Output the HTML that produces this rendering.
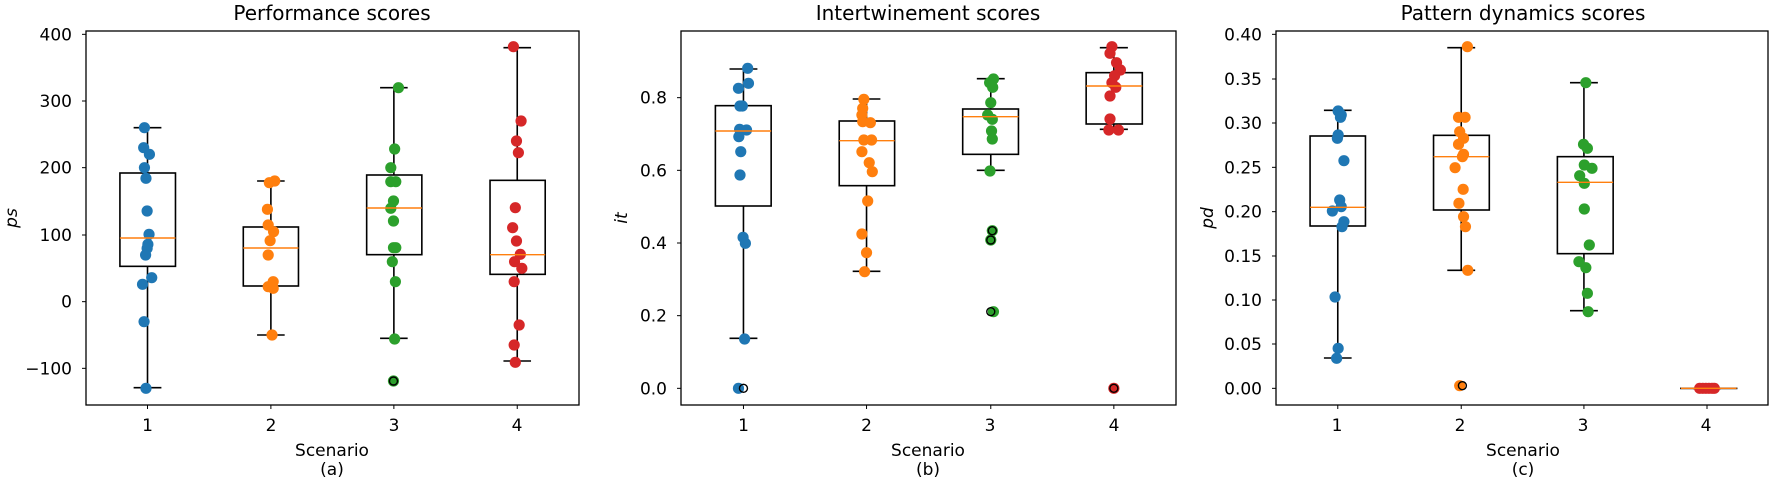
<!DOCTYPE html>
<html><head><meta charset="utf-8"><style>
html,body{margin:0;padding:0;background:#fff;}
svg{display:block;font-family:"DejaVu Sans","Liberation Sans",sans-serif;}
</style></head><body>
<svg id="s" width="1772" height="483" viewBox="0 0 1772 483" xmlns="http://www.w3.org/2000/svg">
<rect width="1772" height="483" fill="#fff"/>
<g font-size="20" text-anchor="middle" fill="#000">
<text x="332" y="20">Performance scores</text>
<text x="928" y="20">Intertwinement scores</text>
<text x="1523" y="20">Pattern dynamics scores</text>
</g>
<g font-size="17" text-anchor="middle" fill="#000">
<text x="332" y="456">Scenario</text><text x="332" y="475">(a)</text>
<text x="928" y="456">Scenario</text><text x="928" y="475">(b)</text>
<text x="1523" y="456">Scenario</text><text x="1523" y="475">(c)</text>
<text x="147.5" y="431">1</text><text x="271" y="431">2</text><text x="394" y="431">3</text><text x="517" y="431">4</text>
<text x="743.5" y="431">1</text><text x="866.5" y="431">2</text><text x="990" y="431">3</text><text x="1114" y="431">4</text>
<text x="1337" y="431">1</text><text x="1460" y="431">2</text><text x="1583" y="431">3</text><text x="1706" y="431">4</text>
</g>
<g font-size="17" text-anchor="end" fill="#000">
<text x="72" y="40.3">400</text><text x="72" y="107">300</text><text x="72" y="173.7">200</text><text x="72" y="241">100</text><text x="72" y="307.7">0</text><text x="72" y="374.3">−100</text>
<text x="667" y="103.7">0.8</text><text x="667" y="176.3">0.6</text><text x="667" y="249">0.4</text><text x="667" y="321.7">0.2</text><text x="667" y="394.3">0.0</text>
<text x="1262" y="40.3">0.40</text><text x="1262" y="85">0.35</text><text x="1262" y="129">0.30</text><text x="1262" y="173.3">0.25</text><text x="1262" y="217.7">0.20</text><text x="1262" y="262">0.15</text><text x="1262" y="306">0.10</text><text x="1262" y="350">0.05</text><text x="1262" y="394.3">0.00</text>
</g>
<g font-size="17" font-style="italic" text-anchor="middle" fill="#000">
<text transform="translate(17,218) rotate(-90)">ps</text>
<text transform="translate(627,218) rotate(-90)">it</text>
<text transform="translate(1213,218) rotate(-90)">pd</text>
</g>
<g id="plot"></g>
</svg>
<script>
var NS="http://www.w3.org/2000/svg",P=document.getElementById("plot");
function el(t,a){var e=document.createElementNS(NS,t);for(var k in a)e.setAttribute(k,a[k]);P.appendChild(e);return e;}
var C=["#1f77b4","#ff7f0e","#2ca02c","#d62728"];
var panels=[
{off:0,k:2.61,ax:[86,31,579,405],yt:[103,303,503,705,905,1105],
 boxes:[[313,458,519,799,714,383,1163,385],[635,779,681,858,744,543,1005,707],[957,1101,525,764,624,263,1015,1028],[1279,1423,541,823,764,143,1083,1350]],
 pts:[[[377,383],[375,443],[390,463],[377,503],[381,535],[384,633],[389,703],[386,733],[384,745],[380,765],[396,833],[372,853],[376,965],[381,1165]],
 [[703,548],[717,543],[698,628],[700,675],[714,695],[705,722],[700,765],[713,845],[700,860],[713,865],[710,1005]],
 [[1040,263],[1030,447],[1020,503],[1020,545],[1033,545],[1027,603],[1020,625],[1027,663],[1027,743],[1033,743],[1024,785],[1032,845],[1030,1017],[1027,1143]],
 [[1340,140],[1360,363],[1348,423],[1353,458],[1345,623],[1338,683],[1348,723],[1358,763],[1343,785],[1362,805],[1342,845],[1355,975],[1342,1035],[1345,1087]]],
 out:[[1027,1143,2]]},
{off:580,k:2.6,ax:[681,31,1176,405],yt:[293,511,729,947,1165],
 boxes:[[352,497,317,618,393,207,1015,425],[674,818,363,557,422,297,814,745],[995,1140,327,463,350,236,511,1068],[1316,1462,218,372,258,143,388,1388]],
 pts:[[[436,205],[438,250],[412,265],[416,318],[422,318],[415,388],[433,390],[413,410],[418,455],[416,525],[424,712],[430,730],[428,1017],[412,1165]],
 [[738,298],[735,325],[733,345],[735,365],[755,368],[738,420],[758,420],[733,455],[752,488],[760,515],[748,603],[733,702],[745,758],[740,815]],
 [[1075,237],[1065,248],[1073,262],[1068,308],[1060,345],[1072,358],[1070,393],[1072,417],[1066,513],[1072,692],[1068,720],[1075,935]],
 [[1383,140],[1378,160],[1395,188],[1405,210],[1390,227],[1383,248],[1393,262],[1378,288],[1378,357],[1375,390],[1400,390],[1388,1165]]],
 out:[[425,1165,-1],[1072,692,2],[1068,720,2],[1068,935,-1],[1388,1165,3]]},
{off:1172,k:2.6,ax:[1276,31,1768,405],yt:[103,237,369,502,635,768,900,1032,1165],
 boxes:[[359,503,408,678,622,331,1074,431],[680,825,406,630,470,143,811,752],[1002,1147,470,761,547,248,932,1071],[1323,1468,1165,1165,1165,1165,1165,1391]],
 pts:[[[432,333],[440,345],[438,352],[432,405],[430,415],[447,482],[436,600],[440,620],[417,633],[447,665],[442,680],[424,891],[432,1045],[428,1075]],
 [[768,140],[745,352],[762,352],[748,395],[758,415],[745,433],[758,463],[755,470],[736,503],[757,568],[746,610],[758,650],[763,680],[769,811],[748,1157]],
 [[1076,248],[1070,433],[1080,445],[1072,495],[1092,505],[1060,527],[1072,550],[1072,627],[1085,735],[1058,785],[1076,803],[1080,880],[1082,935]],
 [[1372,1165],[1380,1165],[1388,1165],[1396,1165],[1404,1165],[1410,1165]]],
 out:[[755,1157,-1]]}
];
panels.forEach(function(p){
 var X=function(z){return p.off+z/p.k;},Y=function(z){return z/3;};
 var a=p.ax;
 p.yt.forEach(function(t){el("line",{x1:a[0]-4,x2:a[0],y1:Y(t),y2:Y(t),stroke:"#000","stroke-width":1});});
 p.boxes.forEach(function(b){var c=X(b[7]);el("line",{x1:c,x2:c,y1:a[3],y2:a[3]+4,stroke:"#000","stroke-width":1});});
 p.boxes.forEach(function(b){
  var c=X(b[7]),hw=(X(b[1])-X(b[0]))/4;
  el("line",{x1:c,x2:c,y1:Y(b[5]),y2:Y(b[2]),stroke:"#000","stroke-width":1.6});
  el("line",{x1:c,x2:c,y1:Y(b[3]),y2:Y(b[6]),stroke:"#000","stroke-width":1.6});
  el("line",{x1:c-hw,x2:c+hw,y1:Y(b[5]),y2:Y(b[5]),stroke:"#000","stroke-width":1.6});
  el("line",{x1:c-hw,x2:c+hw,y1:Y(b[6]),y2:Y(b[6]),stroke:"#000","stroke-width":1.6});
  el("rect",{x:X(b[0]),y:Y(b[2]),width:X(b[1])-X(b[0]),height:Math.max(0.1,Y(b[3])-Y(b[2])),fill:"none",stroke:"#000","stroke-width":1.6});
 });
 p.pts.forEach(function(g,i){g.forEach(function(q){el("circle",{cx:X(q[0]),cy:Y(q[1]),r:5.6,fill:C[i]});});});
 p.out.forEach(function(o){el("circle",{cx:X(o[0]),cy:Y(o[1]),r:4,fill:o[2]<0?"none":C[o[2]],stroke:"#000","stroke-width":1.4});});
 p.boxes.forEach(function(b){el("line",{x1:X(b[0]),x2:X(b[1]),y1:Y(b[4]),y2:Y(b[4]),stroke:"#ff7f0e","stroke-width":1.4});});
 el("rect",{x:a[0],y:a[1],width:a[2]-a[0],height:a[3]-a[1],fill:"none",stroke:"#000","stroke-width":1.3});
});
</script>
</body></html>
